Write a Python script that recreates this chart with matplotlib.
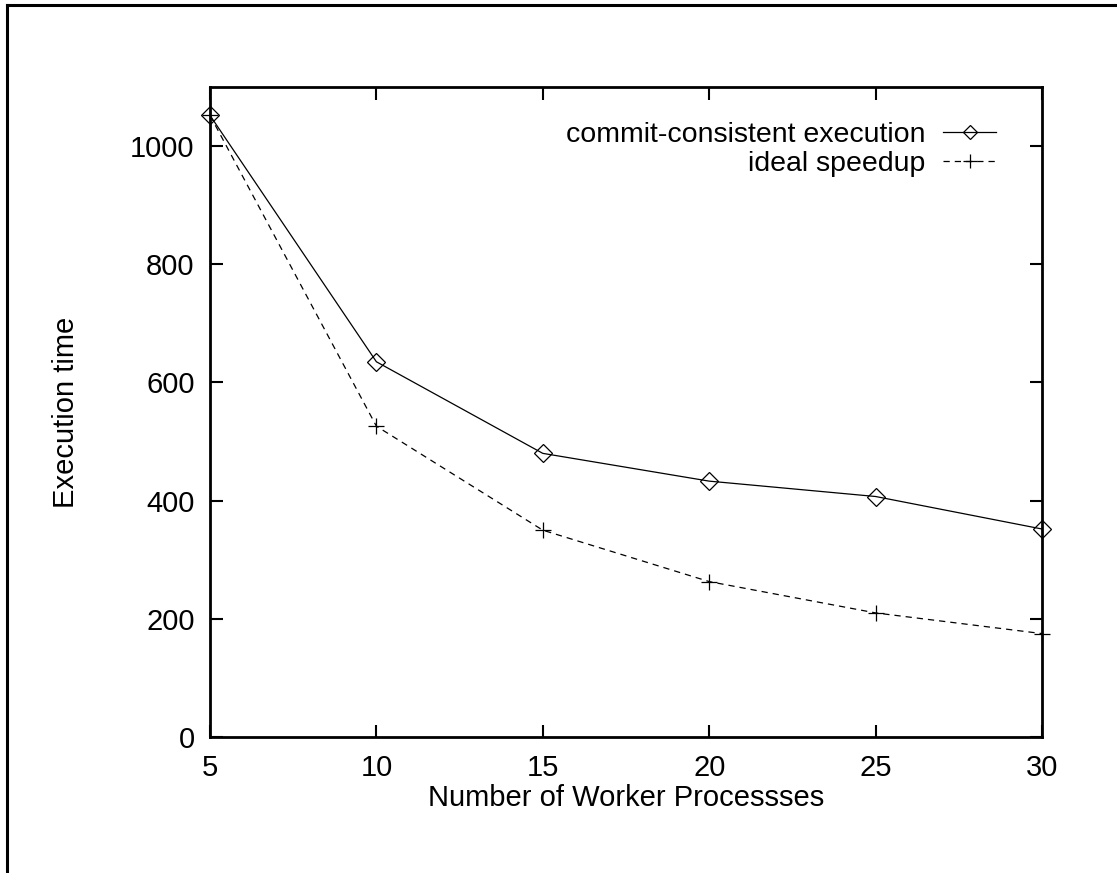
import matplotlib
matplotlib.use("Agg")
import matplotlib.pyplot as plt
from matplotlib.lines import Line2D

plt.rcParams["font.family"] = ["Liberation Sans", "DejaVu Sans"]

WORKERS = [5, 10, 15, 20, 25, 30]
COMMIT_TIME = [1052, 635, 480, 433, 407, 352]
IDEAL_TIME = [1052, 526, 350, 263, 210, 175]
X_TICKS = [5, 10, 15, 20, 25, 30]
Y_TICKS = [0, 200, 400, 600, 800, 1000]

W, H = 1117, 873
fig = plt.figure(figsize=(W / 100, H / 100), dpi=100)
ax = fig.add_axes([210 / W, 1 - 737 / H, (1042 - 210) / W, (737 - 87) / H])

ax.plot(WORKERS, COMMIT_TIME, color="black", lw=0.9, marker="D", ms=9,
        mfc="none", mec="black", mew=0.9, clip_on=False,
        label="commit-consistent execution")
ax.plot(WORKERS, IDEAL_TIME, color="black", lw=0.9, ls=(0, (5, 4)), marker="+",
        ms=12, mew=0.9, clip_on=False, label="ideal speedup")

ax.set_xlim(5, 30)
ax.set_ylim(0, 1100)
ax.set_xticks(X_TICKS)
ax.set_yticks(Y_TICKS)
ax.tick_params(direction="in", length=9, width=1.5, labelsize=21, pad=11,
               top=True, right=True)
ax.tick_params(axis="x", pad=12)
for sp in ax.spines.values():
    sp.set_linewidth(2)

ax.set_xlabel("Number of Worker Processses", fontsize=21, labelpad=2)
ax.set_ylabel("Execution time", fontsize=21, labelpad=36)

ax.legend(loc="upper right", bbox_to_anchor=((996 - 210) / 832, (737 - 122) / 650),
          frameon=False, markerfirst=False, numpoints=1, handlelength=1.85,
          handletextpad=0.63, labelspacing=0.1, fontsize=20.5,
          borderaxespad=0, borderpad=0, markerscale=0.8)

# outer frame (cut off at right and bottom)
fig.add_artist(Line2D([7 / W, 7 / W], [0, 1 - 5 / H], color="black", lw=2.2))
fig.add_artist(Line2D([7 / W, 1], [1 - 5 / H, 1 - 5 / H], color="black", lw=2.2))

fig.savefig("out.png", dpi=100)
